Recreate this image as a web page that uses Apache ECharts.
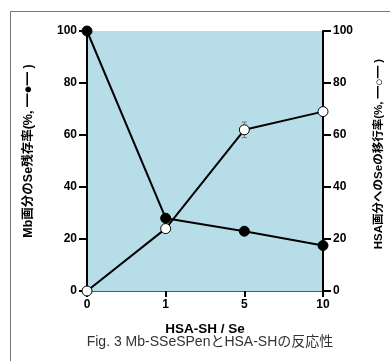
<!DOCTYPE html>
<html><head><meta charset="utf-8">
<script src="https://cdn.jsdelivr.net/npm/echarts@6/dist/echarts.min.js"></script>
<style>html,body{margin:0;padding:0;background:#fff}#c{width:390px;height:361px}</style>
</head><body><div id="c"></div>
<script>
const categories = ['0', '1', '5', '10'];
const mbRemain = [100, 28, 23, 17.5];
const hsaTransfer = [0, 24, 62, 69];
const hsaErr = [0, 0, 3, 0];
const yTicks = [0, 20, 40, 60, 80, 100];

const FONT = '"Liberation Sans", Arial, "Noto Sans CJK JP", sans-serif';
const chart = echarts.init(document.getElementById('c'), null, {renderer: 'canvas'});
function nameRich(fs) {
  return {
    a: {color: '#000', fontWeight: 'bold', fontSize: fs, fontFamily: FONT},
    b: {color: '#000', fontWeight: 'bold', fontSize: fs + 1, fontFamily: FONT}
  };
}
const yAxisCommon = {
  type: 'value', min: 0, max: 100, interval: 20,
  axisLine: {show: true, lineStyle: {color: '#000', width: 2}},
  axisTick: {show: true, length: 8, lineStyle: {color: '#000', width: 2}},
  axisLabel: {color: '#000', fontWeight: 'bold', fontSize: 12, fontFamily: FONT, margin: 10},
  splitLine: {show: false},
  nameLocation: 'middle', nameRotate: 90
};
chart.setOption({
  animation: false,
  backgroundColor: '#fff',
  grid: {left: 87, right: 67, top: 31, bottom: 70, show: true, backgroundColor: '#B7DDE8', borderWidth: 0, outerBoundsMode: 'none', containLabel: false},
  xAxis: {
    type: 'category', data: categories, boundaryGap: false,
    axisLine: {lineStyle: {color: '#555', width: 1}},
    axisTick: {show: true, length: 6, lineStyle: {color: '#000', width: 2}},
    axisLabel: {color: '#000', fontWeight: 'bold', fontSize: 12, fontFamily: FONT, margin: 8},
    name: 'HSA-SH / Se', nameLocation: 'middle', nameGap: 32,
    nameTextStyle: {color: '#000', fontWeight: 'bold', fontSize: 13.5, fontFamily: FONT}
  },
  yAxis: [
    Object.assign({}, yAxisCommon, {position: 'left', name: '{a|Mb画分のSe残存率(%, }{b|━●━}{a| )}', nameGap: 52,
      nameTextStyle: {fontSize: 12.5, padding: [0, 0, 0, 20], rich: nameRich(12.5)}}),
    Object.assign({}, yAxisCommon, {position: 'right', name: '{a|HSA画分へのSeの移行率(%, }{b|━○━}{a| )}', nameGap: 50,
      nameTextStyle: {fontSize: 11.5, padding: [0, 0, 0, 14], rich: nameRich(11.5)}})
  ],
  graphic: [
    {type: 'rect', shape: {x: 10.5, y: 11.5, width: 500, height: 500}, style: {fill: 'none', stroke: '#777', lineWidth: 1}, z: -10, silent: true},
    {type: 'text', x: 210, y: 342, style: {text: 'Fig. 3 Mb-SSeSPenとHSA-SHの反応性', fill: '#333', font: '14px ' + FONT, textAlign: 'center', textVerticalAlign: 'middle'}, silent: true}
  ],
  series: [
    {
      type: 'custom', yAxisIndex: 1, z: 3,
      data: hsaErr.map((e, i) => [i, hsaTransfer[i], e]),
      renderItem: function (params, api) {
        const e = api.value(2);
        if (!e) return null;
        const x = api.coord([api.value(0), 0])[0];
        const hi = api.coord([api.value(0), api.value(1) + e])[1];
        const lo = api.coord([api.value(0), api.value(1) - e])[1];
        const st = {stroke: '#777', lineWidth: 1};
        return {type: 'group', children: [
          {type: 'line', shape: {x1: x, y1: hi, x2: x, y2: lo}, style: st},
          {type: 'line', shape: {x1: x - 2.5, y1: hi, x2: x + 2.5, y2: hi}, style: st},
          {type: 'line', shape: {x1: x - 2.5, y1: lo, x2: x + 2.5, y2: lo}, style: st}
        ]};
      }
    },
    {
      type: 'line', yAxisIndex: 1, data: hsaTransfer, z: 4,
      symbol: 'circle', symbolSize: 10, clip: false,
      lineStyle: {color: '#000', width: 2},
      itemStyle: {color: '#fff', borderColor: '#000', borderWidth: 1}
    },
    {
      type: 'line', yAxisIndex: 0, data: mbRemain, z: 5,
      symbol: 'circle', symbolSize: 10, clip: false,
      lineStyle: {color: '#000', width: 2},
      itemStyle: {color: '#000', borderColor: '#000', borderWidth: 1}
    }
  ]
});
</script></body></html>
